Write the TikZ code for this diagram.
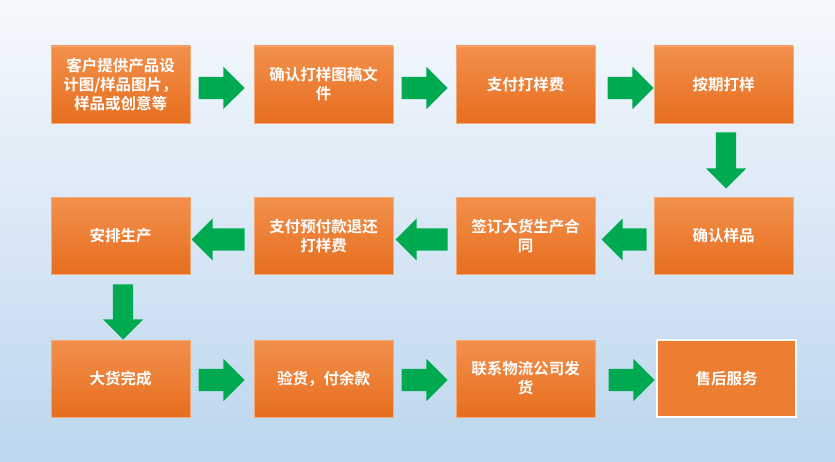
\documentclass[tikz,border=0pt]{standalone}
\usepackage{fontspec}
\setmainfont{Noto Sans CJK SC}[BoldFont={Noto Sans CJK SC Bold}]
\usetikzlibrary{shapes.arrows,calc}
\definecolor{bgtop}{RGB}{246,249,253}
\definecolor{bgbot}{RGB}{188,214,238}
\definecolor{orgtop}{RGB}{243,144,76}
\definecolor{orgbot}{RGB}{230,110,30}
\definecolor{orgflat}{RGB}{237,125,49}
\definecolor{orgline}{RGB}{244,170,120}
\definecolor{arrgreen}{RGB}{0,170,80}
\begin{document}
\begin{tikzpicture}[x=1pt,y=-1pt,
  stepbox/.style={rectangle, minimum width=139pt, minimum height=77pt, inner sep=0pt,
    top color=orgtop, bottom color=orgbot, draw=orgline, line width=0.6pt,
    text=white, font=\bfseries\fontsize{15.5}{19}\selectfont, align=center},
  lastbox/.style={stepbox, top color=orgflat, bottom color=orgflat, draw=white, line width=1.4pt},
  garrow/.style={single arrow, fill=arrgreen, draw=none, inner sep=11pt, anchor=tail,
    minimum height=46pt, single arrow head extend=10pt, single arrow tip angle=90},
  varrow/.style={garrow, inner sep=10pt, minimum height=56pt, single arrow head extend=10pt, rotate=-90}
]
\shade[top color=bgtop, bottom color=bgbot] (0,0) rectangle (835,462);
\useasboundingbox (0,0) rectangle (835,462);

% row 1
\node[stepbox] (a1) at (120.5,84.5) {客户提供产品设\\计图/样品图片，\\样品或创意等};
\node[stepbox] (a2) at (323.5,84.5) {确认打样图稿文\\件};
\node[stepbox] (a3) at (525.5,84.5) {支付打样费};
\node[stepbox] (a4) at (723.5,84.5) {按期打样};
% row 2
\node[stepbox] (b1) at (120.5,236) {安排生产};
\node[stepbox] (b2) at (323.5,236) {支付预付款退还\\打样费};
\node[stepbox] (b3) at (525.5,236) {签订大货生产合\\同};
\node[stepbox] (b4) at (723.5,236) {确认样品};
% row 3
\node[stepbox] (c1) at (120.5,378.5) {大货完成};
\node[stepbox] (c2) at (323.5,378.5) {验货，付余款};
\node[stepbox] (c3) at (525.5,378.5) {联系物流公司发\\货};
\node[lastbox] (c4) at (726.5,378.5) {售后服务};

% arrows row 1
\node[garrow] (r1) at ($(a1.east)+(8,3.5)$) {};
\node[garrow] (r2) at ($(a2.east)+(8,3.5)$) {};
\node[garrow] (r3) at ($(a3.east)+(12,3.5)$) {};
% down right
\node[varrow] (d1) at ($(a4.south)+(2.5,9)$) {};
% arrows row 2 (leftwards)
\node[garrow, rotate=180, minimum height=45pt] (l1) at ($(b4.west)+(-7,3.5)$) {};
\node[garrow, rotate=180, minimum height=52pt] (l2) at ($(b3.west)+(-8,3.5)$) {};
\node[garrow, rotate=180, minimum height=53pt] (l3) at ($(b2.west)+(-9,3.5)$) {};
% down left
\node[varrow, minimum height=55pt] (d2) at ($(b1.south)+(2.5,9.5)$) {};
% arrows row 3
\node[garrow] (s1) at ($(c1.east)+(8,1.5)$) {};
\node[garrow] (s2) at ($(c2.east)+(8,1.5)$) {};
\node[garrow] (s3) at ($(c3.east)+(13,1.5)$) {};
\end{tikzpicture}
\end{document}
